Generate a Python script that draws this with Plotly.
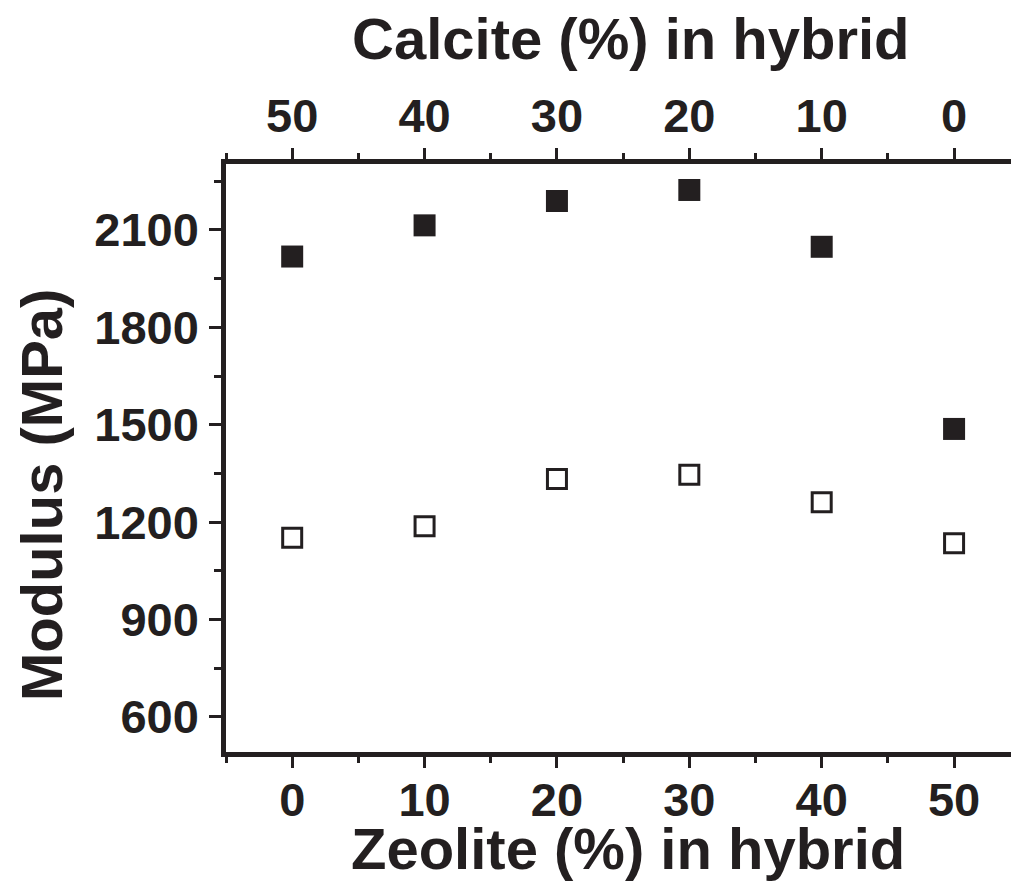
import plotly.graph_objects as go

# Composition of the hybrid filler (zeolite share; calcite is the remainder)
zeolite_pct = [0, 10, 20, 30, 40, 50]
calcite_pct = [50, 40, 30, 20, 10, 0]

# Modulus (MPa) for the two sample series
modulus_filled = [2018, 2114, 2189, 2223, 2048, 1487]
modulus_open = [1152, 1187, 1333, 1346, 1261, 1135]

INK = "#231f20"
FONT = "Liberation Sans, Arial, Helvetica, sans-serif"

fig = go.Figure()

fig.add_trace(go.Scatter(
    x=zeolite_pct, y=modulus_filled, mode="markers",
    marker=dict(symbol="square", size=22, color=INK, line=dict(width=0)),
    showlegend=False,
))
fig.add_trace(go.Scatter(
    x=zeolite_pct, y=modulus_open, mode="markers",
    marker=dict(symbol="square", size=19, color="white", line=dict(width=3, color=INK)),
    showlegend=False,
))
# Companion trace on the calcite axis so the top axis is laid out
fig.add_trace(go.Scatter(
    x=calcite_pct, y=modulus_open, xaxis="x2", mode="markers",
    marker=dict(opacity=0), hoverinfo="skip", showlegend=False,
))

tick_font = dict(family=FONT, size=47, color=INK, weight="bold")
title_font = dict(family=FONT, size=58, color=INK, weight="bold")

x_lo, x_hi = -5.0, 54.3

common = dict(
    ticks="outside", tickwidth=3, tickcolor=INK,
    showline=True, linewidth=4.5, linecolor=INK,
    showgrid=False, zeroline=False, automargin=False,
    tickfont=tick_font,
)

fig.update_layout(
    width=1011, height=884,
    margin=dict(l=226, r=0, t=164, b=132),
    paper_bgcolor="white", plot_bgcolor="white",
    xaxis=dict(
        range=[x_lo, x_hi], tick0=0, dtick=10, ticklen=11,
        minor=dict(ticks="outside", ticklen=6, tickwidth=3, tickcolor=INK, dtick=5, tick0=0),
        ticklabelstandoff=-8, **common,
    ),
    xaxis2=dict(
        overlaying="x", side="top",
        range=[50 - x_lo, 50 - x_hi], tick0=0, dtick=10, ticklen=11,
        minor=dict(ticks="outside", ticklen=6, tickwidth=3, tickcolor=INK, dtick=5, tick0=0),
        ticklabelstandoff=-3, **common,
    ),
    yaxis=dict(
        range=[492, 2303], tick0=0, dtick=300, ticklen=12,
        minor=dict(ticks="outside", ticklen=7, tickwidth=3, tickcolor=INK, dtick=150, tick0=0),
        ticklabelstandoff=1, **common,
    ),
    annotations=[
        dict(text="Calcite (%) in hybrid", xref="paper", yref="paper",
             x=0.516, y=(752 - 39) / 588, xanchor="center", yanchor="middle",
             showarrow=False, font=title_font),
        dict(text="Zeolite (%) in hybrid", xref="paper", yref="paper",
             x=0.512, y=(752 - 848) / 588, xanchor="center", yanchor="middle",
             showarrow=False, font=title_font),
        dict(text="Modulus (MPa)", xref="paper", yref="paper", textangle=-90,
             x=(41 - 226) / 785, y=(752 - 495) / 588, xanchor="center", yanchor="middle",
             showarrow=False, font=title_font),
    ],
)

fig.write_html("out.html")
